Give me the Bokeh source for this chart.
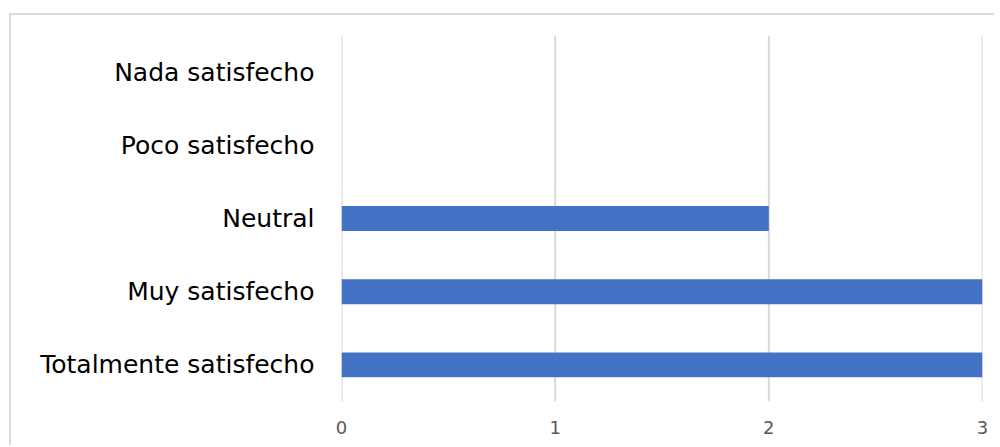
from bokeh.plotting import figure
from bokeh.models import Range1d, FactorRange, Span, FixedTicker
from bokeh.embed import file_html
from bokeh.resources import INLINE

# Satisfaction levels, listed bottom to top
categories = ["Totalmente satisfecho", "Muy satisfecho", "Neutral",
              "Poco satisfecho", "Nada satisfecho"]
counts = [3, 3, 2, 0, 0]
x_ticks = [0, 1, 2, 3]

BAR_COLOR = "#4472C4"
GRID_COLOR = "#D9D9D9"

# The chart box starts 9px from the left and 13px from the top,
# with a light border on its top and left sides.
p = figure(
    width=985, height=432,
    margin=(13, 0, 0, 9),
    styles={"border-top": "2px solid #D9D9D9",
            "border-left": "2px solid #D9D9D9"},
    y_range=FactorRange(*categories, range_padding=0),
    x_range=Range1d(0, 3),
    output_backend="svg", toolbar_location=None,
    min_border_left=330, min_border_right=14,
    min_border_top=20, min_border_bottom=46,
)

# Vertical gridlines at every tick, including both range ends
for t in x_ticks:
    p.add_layout(Span(location=t, dimension="height", line_color=GRID_COLOR,
                      line_width=2, level="underlay"))

p.hbar(y=categories, right=counts, left=0, height=0.34,
       color=BAR_COLOR, line_color=None)

p.outline_line_color = None
p.background_fill_color = "white"
p.border_fill_color = "white"

p.xgrid.grid_line_color = None
p.ygrid.grid_line_color = None

p.xaxis.ticker = FixedTicker(ticks=x_ticks)
p.xaxis.axis_line_color = None
p.xaxis.major_tick_line_color = None
p.xaxis.minor_tick_line_color = None
p.xaxis.major_label_standoff = 13
p.xaxis.major_label_text_font = "DejaVu Sans"
p.xaxis.major_label_text_font_size = "18px"
p.xaxis.major_label_text_color = "#595959"

p.yaxis.axis_line_color = None
p.yaxis.major_tick_line_color = None
p.yaxis.minor_tick_line_color = None
p.yaxis.major_label_standoff = 21
p.yaxis.major_label_text_font = "DejaVu Sans"
p.yaxis.major_label_text_font_size = "25px"
p.yaxis.major_label_text_color = "#000000"

open("out.html", "w").write(file_html(p, INLINE))
